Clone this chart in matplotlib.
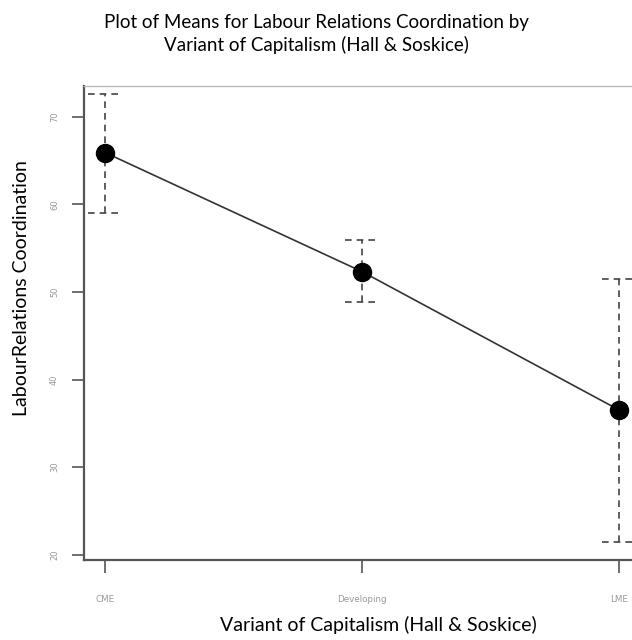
import matplotlib
matplotlib.use("Agg")
import matplotlib.pyplot as plt
import numpy as np

# group means with upper / lower interval bounds
groups = ["CME", "Developing", "LME"]
means = [65.9, 52.3, 36.5]
upper = [72.6, 55.9, 51.5]
lower = [59.0, 48.8, 21.4]
y_ticks = [20, 30, 40, 50, 60, 70]

TEXT_FONT = ["Lato", "DejaVu Sans"]
TICK_GREY = "#999999"
AXIS_GREY = "#555555"

fig = plt.figure(figsize=(6.32, 6.40), dpi=100)
# the plotting region runs slightly past the right edge of the canvas
ax = fig.add_axes([84 / 632, 80 / 640, 556 / 632, 474 / 640])

x = np.arange(len(groups))
cap = 0.066

for xi, lo, hi in zip(x, lower, upper):
    ax.plot([xi, xi], [lo, hi], color="#444444", lw=1.2, ls=(0, (4, 3)), zorder=2)
    for yv in (lo, hi):
        ax.plot([xi - cap, xi + cap], [yv, yv], color="#444444", lw=1.2,
                ls=(0, (4, 3)), zorder=2)

ax.plot(x, means, color="#333333", lw=1.2, zorder=3)
ax.plot(x, means, "o", color="black", ms=13, zorder=4)

ax.set_xlim(-0.082, 2.08)
ax.set_ylim(19.4, 73.5)
ax.set_xticks(x)
ax.set_xticklabels(groups)
ax.set_yticks(y_ticks)
ax.set_yticklabels([str(v) for v in y_ticks], rotation=90, va="center")

ax.tick_params(axis="y", length=9, width=1.2, color=AXIS_GREY, labelsize=6,
               labelcolor=TICK_GREY, pad=9)
ax.tick_params(axis="x", length=9, width=1.2, color=AXIS_GREY, labelsize=6.3,
               labelcolor=TICK_GREY, pad=16)

for side, sp in ax.spines.items():
    sp.set_color(AXIS_GREY)
    sp.set_linewidth(1.6)
ax.spines["top"].set_color("#bbbbbb")
ax.spines["top"].set_linewidth(1.0)

fig.text(0.5, 0.965, "Plot of Means for Labour Relations Coordination by",
         ha="center", va="center", fontsize=13.5, family=TEXT_FONT)
fig.text(0.5, 0.929, "Variant of Capitalism (Hall & Soskice)",
         ha="center", va="center", fontsize=13.5, family=TEXT_FONT)
fig.text(0.598, 0.024, "Variant of Capitalism (Hall & Soskice)",
         ha="center", va="center", fontsize=14, family=TEXT_FONT)
fig.text(0.034, 0.55, "LabourRelations Coordination", rotation=90,
         ha="center", va="center", fontsize=14, family=TEXT_FONT)

fig.savefig("out.png", dpi=100)
